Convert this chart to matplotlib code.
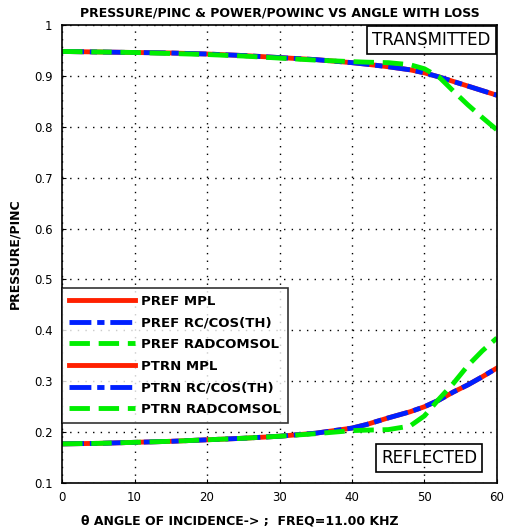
import matplotlib
matplotlib.use('Agg')
from matplotlib import pyplot as plt

# angle of incidence (deg)
theta = [0, 5, 10, 15, 20, 25, 30, 35, 40, 42, 45, 48, 50, 52, 54, 56, 58, 60]
# reflected
pref_mpl = [0.177, 0.178, 0.180, 0.182, 0.185, 0.188, 0.192, 0.198, 0.208, 0.215, 0.228, 0.240, 0.250, 0.263, 0.279, 0.293, 0.309, 0.326]
pref_rc = [0.177, 0.178, 0.180, 0.182, 0.185, 0.188, 0.192, 0.198, 0.208, 0.215, 0.228, 0.240, 0.250, 0.263, 0.279, 0.293, 0.309, 0.326]
pref_com = [0.177, 0.178, 0.180, 0.182, 0.185, 0.188, 0.192, 0.197, 0.203, 0.204, 0.205, 0.212, 0.232, 0.265, 0.296, 0.331, 0.360, 0.385]
# transmitted
ptrn_mpl = [0.948, 0.947, 0.946, 0.945, 0.943, 0.940, 0.936, 0.932, 0.926, 0.923, 0.918, 0.912, 0.906, 0.898, 0.889, 0.880, 0.871, 0.862]
ptrn_rc = [0.948, 0.947, 0.946, 0.945, 0.943, 0.940, 0.936, 0.932, 0.926, 0.923, 0.918, 0.912, 0.906, 0.898, 0.889, 0.880, 0.871, 0.862]
ptrn_com = [0.948, 0.947, 0.946, 0.944, 0.942, 0.939, 0.935, 0.931, 0.928, 0.927, 0.926, 0.922, 0.914, 0.898, 0.870, 0.843, 0.818, 0.794]

plt.rcParams['font.family'] = ['DejaVu Sans']
fig = plt.figure(figsize=(5.05, 5.32), dpi=100)
ax = fig.add_axes([0.123, 0.092, 0.861, 0.861])

lw = 3.5
dashdot = (0, (4.5, 1.2, 1.5, 1.2))
dashed = (0, (4.2, 1.8))
ax.plot(theta, pref_mpl, color='#ff2000', lw=lw, label='PREF MPL')
ax.plot(theta, pref_rc, color='#0020ff', lw=lw, ls=dashdot, label='PREF RC/COS(TH)')
ax.plot(theta, pref_com, color='#00ee00', lw=lw, ls=dashed, label='PREF RADCOMSOL')
ax.plot(theta, ptrn_mpl, color='#ff2000', lw=lw, label='PTRN MPL')
ax.plot(theta, ptrn_rc, color='#0020ff', lw=lw, ls=dashdot, label='PTRN RC/COS(TH)')
ax.plot(theta, ptrn_com, color='#00ee00', lw=lw, ls=dashed, label='PTRN RADCOMSOL')

ax.set_xlim(0, 60)
ax.set_ylim(0.1, 1)
ax.set_xticks(range(0, 61, 10))
ax.set_yticks([0.1, 0.2, 0.3, 0.4, 0.5, 0.6, 0.7, 0.8, 0.9, 1])
ax.set_yticklabels(['0.1', '0.2', '0.3', '0.4', '0.5', '0.6', '0.7', '0.8', '0.9', '1'])
ax.grid(True, color='black', ls=(0, (1, 4.5)), lw=1)
ax.tick_params(labelsize=8.5, direction='in', length=3)
ax.tick_params(axis='y', pad=7)
ax.tick_params(axis='x', pad=6)
for s in ax.spines.values():
    s.set_linewidth(1.2)

ax.set_title('PRESSURE/PINC & POWER/POWINC VS ANGLE WITH LOSS', fontsize=9, fontweight='bold', pad=6)
fig.text(0.475, 0.021, '\u03b8 ANGLE OF INCIDENCE-> ;  FREQ=11.00 KHZ', fontsize=9, fontweight='bold',
         ha='center', va='center')
ax.set_ylabel('PRESSURE/PINC', fontsize=9, fontweight='bold', labelpad=9)

leg = ax.legend(loc='upper left', bbox_to_anchor=(0.0, 0.426), fontsize=9.5, frameon=True,
                fancybox=False, edgecolor='black', handlelength=5.0, borderaxespad=0,
                labelspacing=0.66, handletextpad=0.5, borderpad=0.5)
leg.get_frame().set_linewidth(1.2)
for t in leg.get_texts():
    t.set_fontweight('bold')

ax.text(0.986, 0.988, 'TRANSMITTED', transform=ax.transAxes, ha='right', va='top', fontsize=12,
        bbox=dict(boxstyle='square,pad=0.3', fc='none', ec='black', lw=1.2))
ax.text(0.955, 0.034, 'REFLECTED', transform=ax.transAxes, ha='right', va='bottom', fontsize=12,
        bbox=dict(boxstyle='square,pad=0.3', fc='none', ec='black', lw=1.2))

fig.savefig('out.png', dpi=100)
